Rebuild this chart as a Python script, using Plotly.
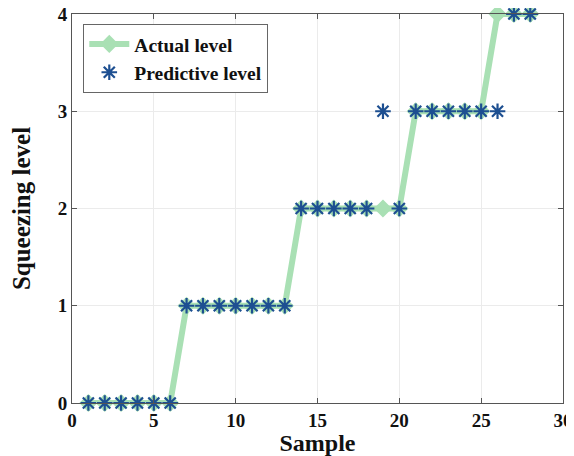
import plotly.graph_objects as go

samples = list(range(1, 29))
actual_level = [0]*6 + [1]*7 + [2]*7 + [3]*5 + [4]*3
predictive_level = [0]*6 + [1]*7 + [2]*5 + [3, 2] + [3]*6 + [4]*2

x_ticks = [0, 5, 10, 15, 20, 25, 30]
y_ticks = [0, 1, 2, 3, 4]

font_family = "Liberation Serif"

fig = go.Figure()
fig.add_trace(go.Scatter(
    x=samples, y=actual_level, mode="lines+markers", name="<b>Actual level</b>",
    line=dict(color="#a9e0b4", width=6),
    marker=dict(symbol="diamond", size=14, color="#a9e0b4"),
    cliponaxis=False,
))
fig.add_trace(go.Scatter(
    x=samples, y=predictive_level, mode="markers", name="<b>Predictive level</b>",
    marker=dict(symbol="asterisk-open", size=13, color="#1d4f91",
                line=dict(color="#1d4f91", width=2.2)),
    cliponaxis=False,
))

axis_common = dict(
    showline=True, linecolor="#555555", linewidth=1, mirror="ticks",
    ticks="inside", ticklen=5, tickcolor="#555555",
    showgrid=True, gridcolor="#ebebeb", gridwidth=1, zeroline=False,
    tickfont=dict(family=font_family, size=19, color="#111111"),
    automargin=False, ticklabeloverflow="allow",
)

# page body adds an 8px offset; size the figure so the plot area lands where the reference has it
fig.update_layout(
    width=566, height=448,
    margin=dict(l=64, r=11, t=6, b=53),
    paper_bgcolor="white", plot_bgcolor="white",
    font=dict(family=font_family, color="#111111"),
    xaxis=dict(range=[0, 30], tickvals=x_ticks,
               ticktext=[f"<b>{v}</b>" for v in x_ticks],
               title=dict(text="<b>Sample</b>", font=dict(family=font_family, size=24), standoff=4),
               **axis_common),
    yaxis=dict(range=[0, 4], tickvals=y_ticks,
               ticktext=[f"<b>{v}</b>" for v in y_ticks],
               title=dict(text="<b>Squeezing level</b>", font=dict(family=font_family, size=25), standoff=29),
               **axis_common),
    legend=dict(x=0.023, y=0.975, xanchor="left", yanchor="top",
                bgcolor="white", bordercolor="#666666", borderwidth=1,
                font=dict(family=font_family, size=19.5, color="#111111"),
                itemwidth=40, tracegroupgap=0),
    showlegend=True,
)

fig.write_html("out.html")
